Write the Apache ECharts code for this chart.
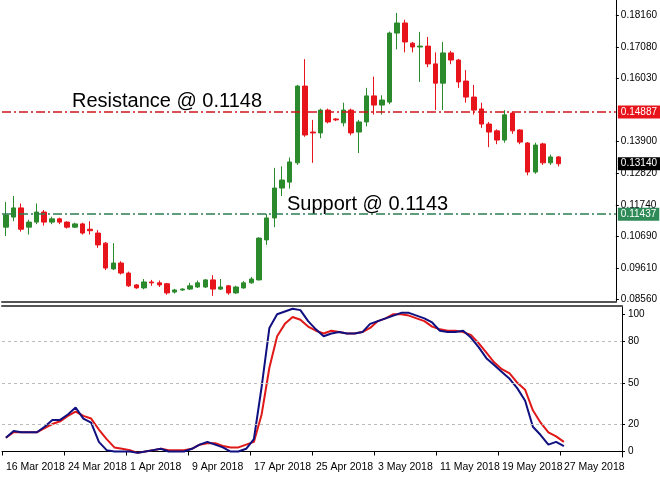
<!DOCTYPE html>
<html>
<head>
<meta charset="utf-8">
<script src="https://cdn.jsdelivr.net/npm/echarts@6/dist/echarts.min.js"></script>
<style>
html,body{margin:0;padding:0;background:#fff}
#main{width:660px;height:485px}
</style>
</head>
<body>
<div id="main"></div>
<script>
// 日期 16 Mar - 27 May 2018, 后面留空位
var dates = [];
var d0 = new Date(2018, 2, 16);
var monthNames = ['Jan','Feb','Mar','Apr','May','Jun'];
for (var i = 0; i < 80; i++) {
    var d = new Date(d0.getTime() + i * 86400000);
    dates.push(d.getDate() + ' ' + monthNames[d.getMonth()] + ' 2018');
}

// K线 [open, close, low, high]
var candles = [
 [0.1100,0.1141,0.1070,0.1185],[0.1134,0.1165,0.1120,0.1205],[0.1165,0.1093,0.1085,0.1180],[0.1100,0.1117,0.1075,0.1125],
 [0.1117,0.1151,0.1110,0.1180],[0.1151,0.1117,0.1105,0.1158],[0.1117,0.1128,0.1110,0.1135],[0.1128,0.1117,0.1110,0.1132],
 [0.1117,0.1100,0.1095,0.1120],[0.1100,0.1111,0.1097,0.1115],[0.1111,0.1080,0.1075,0.1115],[0.1093,0.1088,0.1075,0.1120],
 [0.1080,0.1040,0.1030,0.1090],[0.1046,0.0962,0.0955,0.1050],[0.0959,0.0979,0.0955,0.1046],[0.0979,0.0945,0.0940,0.0985],
 [0.0945,0.0902,0.0898,0.0950],[0.0905,0.0895,0.0892,0.0908],[0.0895,0.0915,0.0890,0.0925],[0.0915,0.0912,0.0902,0.0922],
 [0.0912,0.0905,0.0898,0.0920],[0.0909,0.0878,0.0872,0.0912],[0.0881,0.0888,0.0876,0.0892],[0.0888,0.0891,0.0885,0.0894],
 [0.0891,0.0902,0.0888,0.0912],[0.0898,0.0912,0.0895,0.0920],[0.0898,0.0922,0.0895,0.0925],[0.0922,0.0891,0.0868,0.0938],
 [0.0891,0.0898,0.0888,0.0925],[0.0902,0.0878,0.0872,0.0905],[0.0878,0.0898,0.0875,0.0902],[0.0895,0.0912,0.0892,0.0918],
 [0.0912,0.0925,0.0909,0.0932],[0.0922,0.1063,0.0920,0.1066],[0.1057,0.1131,0.1040,0.1145],[0.1131,0.1232,0.1100,0.1300],
 [0.1232,0.1259,0.1205,0.1305],[0.1252,0.1320,0.1230,0.1335],[0.1317,0.1576,0.1310,0.1580],[0.1576,0.1411,0.1405,0.1667],
 [0.1421,0.1418,0.1317,0.1462],[0.1418,0.1495,0.1400,0.1500],[0.1495,0.1455,0.1450,0.1500],[0.1465,0.1462,0.1458,0.1468],
 [0.1452,0.1495,0.1440,0.1520],[0.1495,0.1418,0.1410,0.1500],[0.1421,0.1455,0.1350,0.1462],[0.1455,0.1543,0.1440,0.1570],
 [0.1543,0.1512,0.1480,0.1608],[0.1512,0.1529,0.1480,0.1545],[0.1522,0.1755,0.1515,0.1760],[0.1755,0.1789,0.1700,0.1823],
 [0.1789,0.1725,0.1690,0.1800],[0.1721,0.1708,0.1690,0.1725],[0.1708,0.1711,0.1590,0.1759],[0.1711,0.1651,0.1640,0.1742],
 [0.1651,0.1586,0.1495,0.1690],[0.1586,0.1688,0.1495,0.1725],[0.1688,0.1664,0.1650,0.1695],[0.1664,0.1590,0.1570,0.1668],
 [0.1593,0.1539,0.1520,0.1630],[0.1539,0.1495,0.1480,0.1580],[0.1499,0.1448,0.1435,0.1520],[0.1448,0.1421,0.1370,0.1455],
 [0.1425,0.1394,0.1380,0.1430],[0.1394,0.1479,0.1385,0.1495],[0.1485,0.1425,0.1415,0.1490],[0.1428,0.1387,0.1380,0.1430],
 [0.1384,0.1286,0.1275,0.1387],[0.1286,0.1377,0.1280,0.1385],[0.1381,0.1317,0.1310,0.1385],[0.1317,0.1337,0.1310,0.1345],
 [0.1337,0.1314,0.1305,0.1340]
];

// 随机指标 %K / %D
var stochK = [10,15,14,14,14,18,23,23,27,32,24,21,7,1,0,0,0,-1,0,1,2,0,0,0,2,5,7,5,3,0,0,2,9,47,90,100,102,104,103,95,89,84,86,87,86,86,87,93,95,97,99,101,101,99,97,94,88,87,87,88,83,76,68,63,58,53,46,37,18,12,5,7,4];
var stochD = [10,14,14,14,14,17,20,22,26,29,26,24,16,9,3,2,1,-1,0,1,2,1,1,1,2,5,6,6,4,3,3,5,7,27,61,84,93,98,96,91,88,86,88,87,86,86,87,90,95,97,100,100,99,97,95,91,89,88,88,87,85,79,72,65,60,57,50,45,30,21,14,11,7];

var priceTicks = [0.0856,0.0961,0.1069,0.1174,0.1282,0.1390,0.1603,0.1708,0.1816];
var stochTicks = [0,20,50,80,100];
var resistance = 0.14887, support = 0.11437, lastPrice = 0.13140;

var font = 'Liberation Sans';
var chart = echarts.init(document.getElementById('main'));

function boxLabel(bg) {
    return {
        show: true, position: 'end', distance: 2,
        formatter: function (p) { return Number(p.value).toFixed(5); },
        backgroundColor: bg, color: '#fff', fontFamily: font, fontSize: 10,
        padding: [2, 3, 1, 3]
    };
}

var option = {
    animation: false,
    grid: [
        { left: 2, right: 38, top: 0, height: 302 },
        { left: 2, right: 38, top: 306, height: 151 }
    ],
    xAxis: [
        { type: 'category', gridIndex: 0, data: dates, boundaryGap: true,
          axisLine: { show: true, lineStyle: { color: '#555', width: 2 } },
          axisTick: { show: false }, axisLabel: { show: false }, splitLine: { show: false } },
        { type: 'category', gridIndex: 1, data: dates, boundaryGap: true,
          axisLine: { show: true, lineStyle: { color: '#000' } },
          axisTick: { show: true, interval: function (i) { return i % 8 === 0 && i <= 72; }, inside: false, length: 4, lineStyle: { color: '#000' } },
          axisLabel: { interval: function (i) { return i % 8 === 0 && i <= 72; }, align: 'left', margin: 5,
                       fontFamily: font, fontSize: 10.5, color: '#000' },
          splitLine: { show: false } },
        { type: 'category', gridIndex: 1, data: dates, position: 'top',
          axisLine: { show: true, lineStyle: { color: '#555', width: 2 } },
          axisTick: { show: false }, axisLabel: { show: false } }
    ],
    yAxis: [
        { type: 'value', gridIndex: 0, position: 'right', min: 0.08474, max: 0.18666,
          axisLine: { show: true, lineStyle: { color: '#000' } },
          axisTick: { show: true, customValues: priceTicks, length: 3, lineStyle: { color: '#000' } },
          axisLabel: { customValues: priceTicks, margin: 5, fontFamily: font, fontSize: 10, color: '#000',
                       formatter: function (v) { return v.toFixed(5); } },
          splitLine: { show: false } },
        { type: 'value', gridIndex: 1, position: 'right', min: -4, max: 106,
          axisLine: { show: true, lineStyle: { color: '#000' } },
          axisTick: { show: true, customValues: stochTicks, length: 3, lineStyle: { color: '#000' } },
          axisLabel: { customValues: stochTicks, margin: 6, fontFamily: font, fontSize: 10, color: '#000' },
          splitLine: { show: false } }
    ],
    series: [
        { type: 'candlestick', xAxisIndex: 0, yAxisIndex: 0, data: candles, barWidth: 5,
          itemStyle: { color: '#2b8a2b', color0: '#e8141b', borderColor: '#2b8a2b', borderColor0: '#e8141b', borderWidth: 1 },
          markLine: {
              silent: true, symbol: 'none', precision: 5,
              data: [
                  { yAxis: resistance, lineStyle: { color: '#d0141b', type: [9, 3, 2, 3], width: 1.5 }, label: boxLabel('#e8141b') },
                  { yAxis: support, lineStyle: { color: '#2e7d4f', type: [9, 3, 2, 3], width: 1.5 }, label: boxLabel('#2e8b57') },
                  { yAxis: lastPrice, lineStyle: { color: 'rgba(0,0,0,0)', width: 1 }, label: boxLabel('#000') }
              ]
          } },
        { type: 'line', xAxisIndex: 1, yAxisIndex: 1, data: stochD, symbol: 'none',
          lineStyle: { color: '#e01818', width: 2 } },
        { type: 'line', xAxisIndex: 1, yAxisIndex: 1, data: stochK, symbol: 'none',
          lineStyle: { color: '#101080', width: 2 },
          markLine: {
              silent: true, symbol: 'none', label: { show: false },
              lineStyle: { color: '#bbb', type: [3, 3], width: 1 },
              data: [{ yAxis: 20 }, { yAxis: 50 }, { yAxis: 80 }]
          } }
    ],
    graphic: [
        { type: 'text', left: 72, top: 91, style: { text: 'Resistance @ 0.1148', fontFamily: font, fontSize: 20, fill: '#000' } },
        { type: 'text', left: 287, top: 194, style: { text: 'Support @ 0.1143', fontFamily: font, fontSize: 20, fill: '#000' } }
    ]
};
chart.setOption(option);
</script>
</body>
</html>
